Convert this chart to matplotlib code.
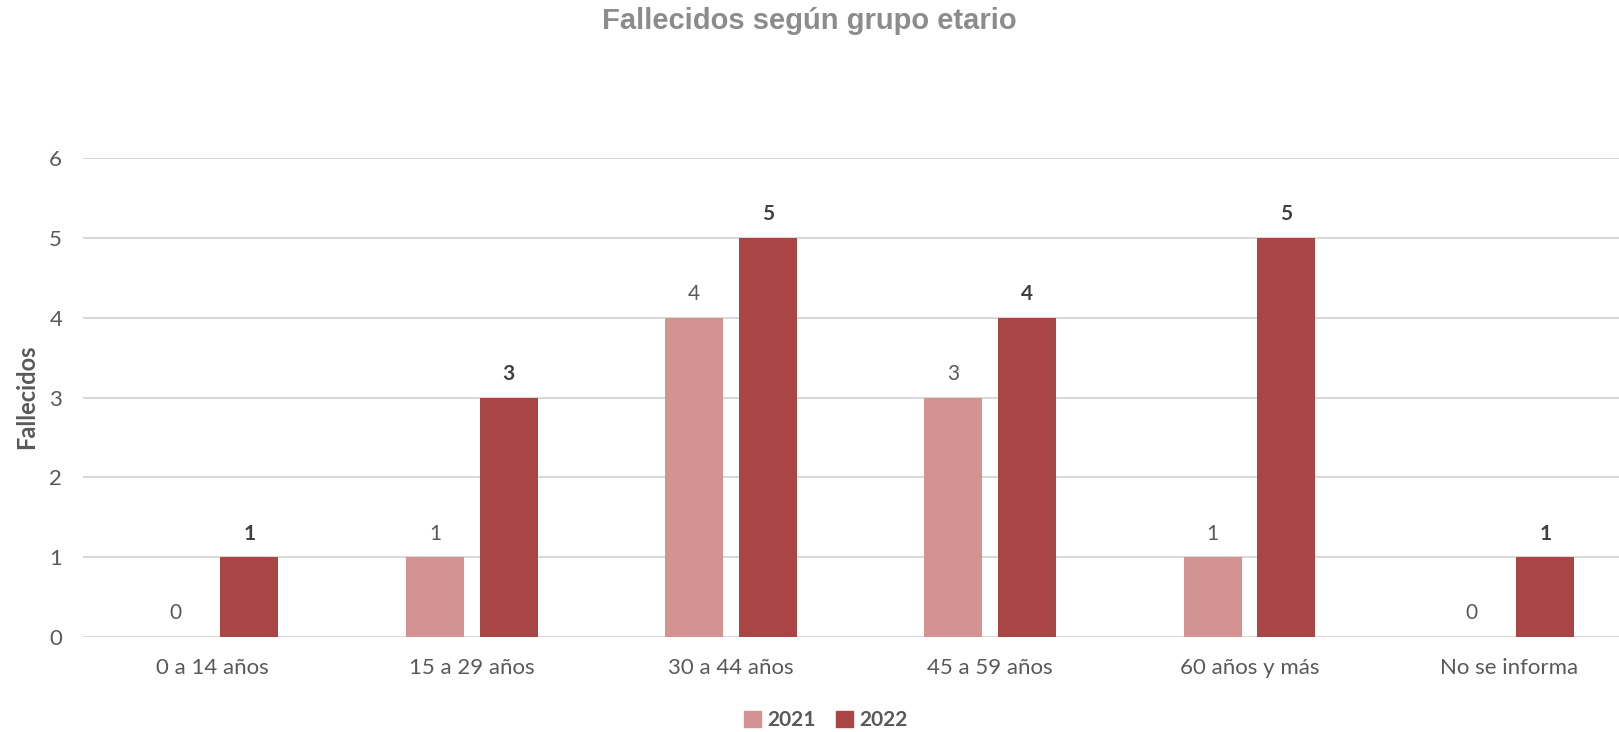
import matplotlib
matplotlib.use("Agg")
import matplotlib.pyplot as plt
from matplotlib.patches import Patch
import numpy as np

categories = ["0 a 14 años", "15 a 29 años", "30 a 44 años", "45 a 59 años", "60 años y más", "No se informa"]
series_names = ["2021", "2022"]
values_2021 = [0, 1, 4, 3, 1, 0]
values_2022 = [1, 3, 5, 4, 5, 1]
yticks = [0, 1, 2, 3, 4, 5, 6]

c21 = "#D39393"
c22 = "#A94545"
txt = "#595959"

W, H = 1619, 732
fig = plt.figure(figsize=(W / 100, H / 100), dpi=100)
left = 83 / W
bottom = (H - 637) / H
top = (H - 158) / H
ax = fig.add_axes([left, bottom, 1 - left, top - bottom])

x = np.arange(len(categories))
bw = 0.224
off = 0.142
ax.bar(x - off, values_2021, bw, color=c21, zorder=3)
ax.bar(x + off, values_2022, bw, color=c22, zorder=3)

ax.set_xlim(-0.5, -0.5 + (W - 83) / 259.2)
ax.set_ylim(0, 6)
ax.set_yticks(yticks)
ax.grid(axis="y", color="#D9D9D9", linewidth=1.5, zorder=0)
ax.set_axisbelow(True)
for s in ax.spines.values():
    s.set_visible(False)
ax.tick_params(axis="both", length=0, labelsize=16, labelcolor=txt)
ax.tick_params(axis="x", pad=15)
ax.tick_params(axis="y", pad=15)
ax.set_xticks(x)
ax.set_xticklabels(categories, fontfamily="Lato")
for lab in ax.get_yticklabels():
    lab.set_fontfamily("Lato")

for xi, v in zip(x, values_2021):
    ax.annotate(str(v), (xi - off, v), xytext=(0, 17), textcoords="offset points",
                ha="center", va="center", fontsize=15, color=txt, fontfamily="Lato")
for xi, v in zip(x, values_2022):
    ax.annotate(str(v), (xi + off, v), xytext=(0, 17), textcoords="offset points",
                ha="center", va="center", fontsize=15, color="#404040",
                fontfamily="Lato", fontweight="bold")

fig.text(27 / W, 1 - 397 / H, "Fallecidos", rotation=90, ha="center", va="center",
         fontsize=17, fontweight="bold", color=txt, fontfamily="Lato")

fig.text(0.5, 1 - 21 / H, "Fallecidos según grupo etario", ha="center", va="center",
         fontsize=21, fontweight="bold", color="#8C8C8C", fontfamily="Liberation Sans")

handles = [Patch(color=c21, label=series_names[0]), Patch(color=c22, label=series_names[1])]
leg = fig.legend(handles=handles, loc="center", bbox_to_anchor=(826 / W, 1 - 720 / H), ncol=2,
                 frameon=False, handlelength=0.8, handleheight=0.8, handletextpad=0.3,
                 columnspacing=1.0, borderpad=0.1,
                 prop={"family": "Lato", "weight": "bold", "size": 15})
for t in leg.get_texts():
    t.set_color(txt)

fig.savefig("out.png", dpi=100)
